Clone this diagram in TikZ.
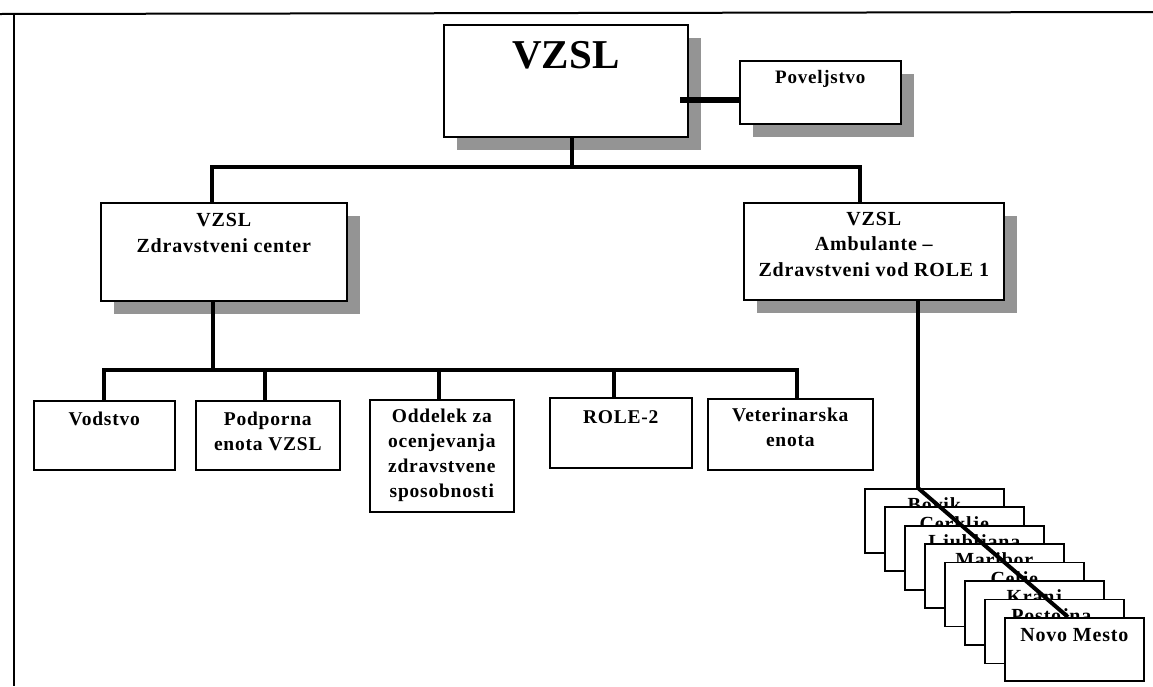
\documentclass[tikz,border=0pt]{standalone}
\usepackage{fontspec}
\setmainfont{Liberation Serif}
\newfontfamily\boxfont{Liberation Serif}[LetterSpace=4]
\usetikzlibrary{shadows,calc}
\begin{document}
\begin{tikzpicture}[x=1pt,y=-1pt,
  box/.style={draw=black, line width=1.6pt, fill=white, rectangle, inner sep=0pt, anchor=north west},
  sbox/.style={box, drop shadow={shadow xshift=13pt,shadow yshift=-13pt,fill=black!42,opacity=1}},
  conn/.style={line width=4pt},
  lbl/.style={anchor=north, inner sep=0pt, align=center, font=\boxfont\bfseries\fontsize{19.5}{25}\selectfont},
  lblb/.style={lbl, font=\boxfont\bfseries\fontsize{20}{26}\selectfont},
  frameline/.style={line width=2pt}]
\useasboundingbox (0,0) rectangle (1153,686);
% frame
\draw[frameline] (0,14) -- (1153,12);
\draw[frameline] (14,14) -- (14,686);
% top level
\node[sbox, minimum width=244pt, minimum height=112pt] (vzsl) at (443,24) {};
\node[lbl, font=\bfseries\fontsize{41}{41}\selectfont] (vzslt) at ($(vzsl.north)+(0,17)$) {VZSL};
\node[sbox, minimum width=161pt, minimum height=63pt] (pov) at (739,60) {};
\node[lbl, font=\boxfont\bfseries\fontsize{19}{25}\selectfont] (povt) at ($(pov.north)+(0,10)$) {Poveljstvo};
% second level
\node[sbox, minimum width=246pt, minimum height=98pt] (zc) at (100,202) {};
\node[lblb] (zct) at ($(zc.north)+(0,11)$) {VZSL\\Zdravstveni center};
\node[sbox, minimum width=260pt, minimum height=97pt] (amb) at (743,202) {};
\node[lblb, font=\boxfont\bfseries\fontsize{20}{25.5}\selectfont] (ambt) at ($(amb.north)+(0,10)$) {VZSL\\Ambulante –\\Zdravstveni vod ROLE 1};
% third level
\node[box, minimum width=141pt, minimum height=69pt] (vod) at (33,400) {};
\node[lbl] (vodt) at ($(vod.north)+(0,11.8)$) {Vodstvo};
\node[box, minimum width=144pt, minimum height=69pt] (pod) at (195,400) {};
\node[lbl] (podt) at ($(pod.north)+(0,11.8)$) {Podporna\\enota VZSL};
\node[box, minimum width=144pt, minimum height=112pt] (odd) at (369,399) {};
\node[lbl] (oddt) at ($(odd.north)+(0,9.8)$) {Oddelek za\\ocenjevanja\\zdravstvene\\sposobnosti};
\node[box, minimum width=142pt, minimum height=70pt] (role) at (549,397) {};
\node[lbl] (rolet) at ($(role.north)+(0,13)$) {ROLE-2};
\node[box, minimum width=165pt, minimum height=71pt] (vet) at (707,398) {};
\node[lbl] (vett) at ($(vet.north)+(0,10)$) {Veterinarska\\enota};
% connectors
\coordinate (pc) at (680,100);
\draw[conn, line width=5.5pt] (pc) -- (pc -| pov.west);
\coordinate (b1M) at (572,167);
\coordinate (b1L) at (212,167);
\coordinate (b1R) at (860,167);
\draw[conn] (vzsl.south -| b1M) -- (b1M);
\draw[conn] (zc.north -| b1L) -- (b1L) -- (b1R) -- (amb.north -| b1R);
\coordinate (b2M) at (213,370);
\coordinate (c1) at (104,370);
\coordinate (c2) at (265,370);
\coordinate (c3) at (439,370);
\coordinate (c4) at (614,370);
\coordinate (c5) at (797,370);
\draw[conn] (zc.south -| b2M) -- (b2M);
\draw[conn] (vod.north -| c1) -- (c1) -- (c5) -- (vet.north -| c5);
\draw[conn] (c2) -- (pod.north -| c2);
\draw[conn] (c3) -- (odd.north -| c3);
\draw[conn] (c4) -- (role.north -| c4);
% stacked boxes
\foreach \i/\t in {0/Bovik, 1/Cerklje, 2/Ljubljana, 3/Maribor, 4/Celje, 5/Kranj, 6/{Postojna,}} {
  \node[box, minimum width=139pt, minimum height=64pt] (s\i) at ({864+20*\i},{488+18.45*\i}) {};
  \node[lblb, font=\boxfont\bfseries\fontsize{20}{26}\selectfont] (s\i t) at ($(s\i.north)+(0,9.5)$) {\t};
}
\coordinate (dstart) at (918,488);
\coordinate (dend) at (1068,617);
\draw[conn] (amb.south -| dstart) -- (dstart);
\draw[conn] (dstart) -- (dend);
\node[box, minimum width=139pt, minimum height=63pt] (s7) at (1004,617) {};
\node[lblb] (s7t) at ($(s7.north)+(0,10.8)$) {Novo Mesto};
\end{tikzpicture}
\end{document}
